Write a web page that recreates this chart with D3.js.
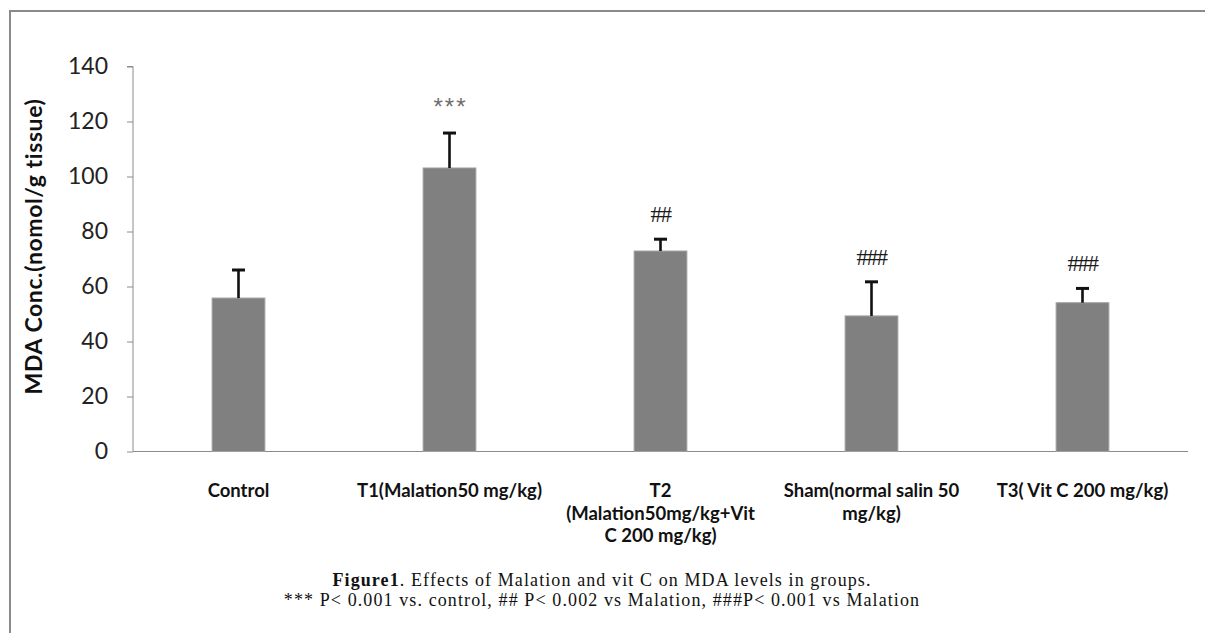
<!DOCTYPE html>
<html><head><meta charset="utf-8">
<script src="https://cdn.jsdelivr.net/npm/d3@7"></script>
<style>body{margin:0;background:#fff}svg{display:block}</style>
</head><body>
<script>
const categories = ["Control","T1","T2","Sham","T3"];
const categoryLabels = [["Control"],["T1(Malation50 mg/kg)"],["T2","(Malation50mg/kg+Vit","C 200 mg/kg)"],["Sham(normal salin 50","mg/kg)"],["T3( Vit C 200 mg/kg)"]];
const means = [55.8, 103.1, 72.9, 49.3, 54.1];
const errors = [10.2, 12.7, 4.3, 12.4, 5.2];
const marks = ["","***","##","###","###"];
const yTicks = [0,20,40,60,80,100,120,140];
const yTitle = "MDA Conc.(nomol/g tissue)";
const captionBold = "Figure1";
const captionRest = ". Effects of Malation and vit C on MDA levels in groups.";
const captionLine2 = "*** P< 0.001 vs. control, ## P< 0.002 vs Malation, ###P< 0.001 vs Malation";

const W=1205,H=633;
const svg=d3.select("body").append("svg").attr("width",W).attr("height",H);
// frame (top and left edges visible)
svg.append("line").attr("x1",10).attr("x2",W).attr("y1",11).attr("y2",11).attr("stroke","#8a8a8a").attr("stroke-width",2);
svg.append("line").attr("x1",10).attr("x2",10).attr("y1",10).attr("y2",H).attr("stroke","#8a8a8a").attr("stroke-width",2);

const x=d3.scaleBand().domain(categories).range([133,1188]).paddingInner(0.75).paddingOuter(0.375);
const y=d3.scaleLinear().domain([0,140]).range([451.5,66.5]);

const ax=d3.axisLeft(y).tickValues(yTicks).tickSize(6).tickPadding(19);
const gy=svg.append("g").attr("transform","translate(133,0)").call(ax);
gy.selectAll("path,line").attr("stroke","#8c8c8c");
gy.select("path").attr("d","M-6,"+y(140)+"H0V"+y(0));
gy.selectAll("text").attr("font-family","Lato, 'Open Sans', sans-serif").attr("font-size",23).attr("fill","#222");

svg.append("line").attr("x1",133).attr("x2",1188).attr("y1",y(0)).attr("y2",y(0)).attr("stroke","#8c8c8c").attr("stroke-width",1.2);

svg.append("text").attr("transform","translate(42,"+((93+400)/2)+") rotate(-90)")
  .attr("text-anchor","middle").attr("font-family","Lato, 'Open Sans', sans-serif").attr("font-weight","bold")
  .attr("font-size",23).attr("letter-spacing","0.6px").attr("fill","#111").text(yTitle);

const data=categories.map((c,i)=>({c,m:means[i],e:errors[i],mk:marks[i],lab:categoryLabels[i]}));
const cx=d=>x(d.c)+x.bandwidth()/2;

svg.selectAll("rect.bar").data(data).enter().append("rect").attr("class","bar")
  .attr("x",d=>x(d.c)).attr("width",x.bandwidth())
  .attr("y",d=>y(d.m)).attr("height",d=>y(0)-y(d.m))
  .attr("fill","#808080").attr("stroke","#a0a0a0").attr("stroke-width",1);

const eb=svg.selectAll("g.eb").data(data).enter().append("g").attr("class","eb");
eb.append("line").attr("x1",cx).attr("x2",cx)
  .attr("y1",d=>y(d.m)).attr("y2",d=>y(d.m+d.e)).attr("stroke","#111").attr("stroke-width",2.6);
eb.append("line").attr("x1",d=>cx(d)-6.5).attr("x2",d=>cx(d)+6.5)
  .attr("y1",d=>y(d.m+d.e)).attr("y2",d=>y(d.m+d.e)).attr("stroke","#111").attr("stroke-width",3);

const isStar=d=>d.mk[0]==="*";
svg.selectAll("text.mk").data(data.filter(d=>d.mk)).enter().append("text").attr("class","mk")
  .attr("x",d=>cx(d)+(isStar(d)?1:0))
  .attr("y",d=>y(d.m+d.e)-(isStar(d)?18:17))
  .attr("text-anchor","middle")
  .attr("font-family",d=>isStar(d)?"'Liberation Sans', Arial, sans-serif":"'Liberation Serif', serif")
  .attr("font-size",d=>isStar(d)?24:23)
  .attr("fill",d=>isStar(d)?"#6e6e6e":"#1a1a1a")
  .attr("letter-spacing",d=>isStar(d)?"2px":"-1.5px")
  .text(d=>d.mk);

const lg=svg.selectAll("text.xl").data(data).enter().append("text").attr("class","xl")
  .attr("text-anchor","middle").attr("font-family","Lato, 'Open Sans', sans-serif").attr("font-weight","bold")
  .attr("font-size",18.5).attr("fill","#111");
lg.each(function(d){
  const t=d3.select(this);
  d.lab.forEach((l,i)=>t.append("tspan").attr("x",cx(d)).attr("y",497+i*22.5).text(l));
});

const cap=svg.append("text").attr("x",602).attr("y",586).attr("text-anchor","middle")
  .attr("font-family","'Liberation Serif', 'Times New Roman', serif").attr("font-size",18).attr("letter-spacing","1.1px").attr("fill","#111");
cap.append("tspan").attr("font-weight","bold").text(captionBold);
cap.append("tspan").text(captionRest);
svg.append("text").attr("x",602).attr("y",606).attr("text-anchor","middle")
  .attr("font-family","'Liberation Serif', 'Times New Roman', serif").attr("font-size",18).attr("letter-spacing","1.1px").attr("fill","#111")
  .text(captionLine2);
</script>
</body></html>
